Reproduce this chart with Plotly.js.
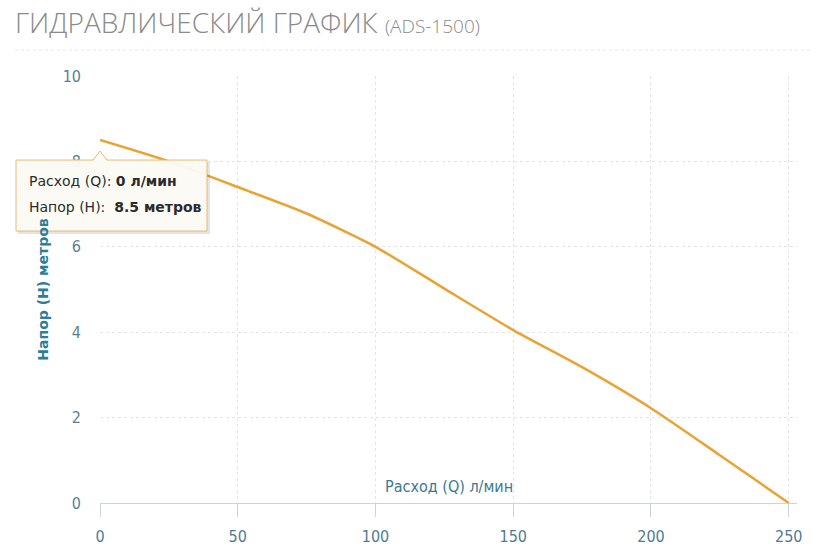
<!DOCTYPE html>
<html>
<head>
<meta charset="utf-8">
<script src="https://cdn.plot.ly/plotly-3.0.1.min.js"></script>
<style>html,body{margin:0;padding:0;background:#fff;}#chart{width:817px;height:553px;}</style>
</head>
<body>
<div id="chart"></div>
<script>
// Data
const flowQ = [0, 25, 50, 75, 100, 125, 150, 175, 200, 225, 250];          // л/мин
const headH = [8.5, 8.0, 7.4, 6.78, 6.0, 5.02, 4.05, 3.18, 2.22, 1.12, 0]; // метров
const xTicks = [0, 50, 100, 150, 200, 250];
const yTicks = [0, 2, 4, 6, 8, 10];
const titleMain = "ГИДРАВЛИЧЕСКИЙ ГРАФИК";
const titleModel = "(ADS-1500)";
const xTitle = "Расход (Q) л/мин";
const yTitle = "Напор (Н) метров";
const tipPointIndex = 0;

const condFont = "'DejaVu Sans Condensed', 'Roboto Condensed', 'Liberation Sans Narrow', Roboto, sans-serif";

const trace = {
  x: flowQ, y: headH, type: 'scatter', mode: 'lines',
  line: {color: '#eba232', width: 2.5, shape: 'spline', smoothing: 0.6},
  hoverinfo: 'skip', showlegend: false
};

const tipQ = flowQ[tipPointIndex], tipH = headH[tipPointIndex];

const layout = {
  width: 817, height: 553,
  paper_bgcolor: '#ffffff', plot_bgcolor: '#ffffff',
  margin: {l: 100, r: 20, t: 76, b: 50},
  title: {
    text: titleMain + ' <span style="font-size:19px">' + titleModel + '</span>',
    font: {family: 'Open Sans', size: 28, color: '#8a8a8a', weight: 300},
    x: 15/817, xref: 'container', xanchor: 'left',
    y: 1 - 13/553, yref: 'container', yanchor: 'top'
  },
  xaxis: {
    range: [0, 253], tickvals: xTicks, ticktext: xTicks.map(String),
    showgrid: true, gridcolor: '#e4e4e4', griddash: 'dot', gridwidth: 1,
    zeroline: false, showline: true, linecolor: '#c9d4e2', linewidth: 1,
    ticks: 'outside', ticklen: 13, tickcolor: '#c9d4e2', tickwidth: 1,
    ticklabelstandoff: 6,
    tickfont: {family: condFont, size: 16, color: '#4f7b94'},
    fixedrange: true
  },
  yaxis: {
    range: [0, 10], tickvals: yTicks, ticktext: yTicks.map(String),
    showgrid: true, gridcolor: '#e4e4e4', griddash: 'dot', gridwidth: 1,
    zeroline: false, showline: false, ticks: '',
    ticklabelstandoff: 18,
    tickfont: {family: condFont, size: 16, color: '#5b7f92'},
    title: {text: yTitle, font: {family: 'DejaVu Sans', size: 14, color: '#2a7d9b', weight: 'bold'}, standoff: 10},
    fixedrange: true
  },
  shapes: [
    {type: 'line', xref: 'paper', yref: 'paper', x0: -85/697, x1: 713/697, y0: 453/427, y1: 453/427,
     line: {color: '#e6e6e6', width: 1, dash: 'dot'}},
    {type: 'rect', xref: 'paper', yref: 'paper', xsizemode: 'pixel', ysizemode: 'pixel',
     xanchor: 0, yanchor: tipH/10, x0: -82, x1: 110, y0: -22, y1: -94,
     fillcolor: 'rgba(0,0,0,0.10)', line: {width: 0}},
    {type: 'rect', xref: 'paper', yref: 'paper', xsizemode: 'pixel', ysizemode: 'pixel',
     xanchor: 0, yanchor: tipH/10, x0: -84, x1: 107, y0: -20, y1: -91,
     fillcolor: 'rgba(253,251,246,0.95)', line: {color: '#ebb86e', width: 1}},
    {type: 'path', xref: 'paper', yref: 'paper', xsizemode: 'pixel', ysizemode: 'pixel',
     xanchor: 0, yanchor: tipH/10, path: 'M -7,-21 L 0,-11 L 7,-21 Z',
     fillcolor: 'rgb(253,251,246)', line: {width: 0}},
    {type: 'path', xref: 'paper', yref: 'paper', xsizemode: 'pixel', ysizemode: 'pixel',
     xanchor: 0, yanchor: tipH/10, path: 'M -7,-20 L 0,-11 L 7,-20',
     line: {color: '#ebb86e', width: 1}}
  ],
  annotations: [
    {xref: 'paper', yref: 'paper', x: 0.5, y: 0, xanchor: 'center', yanchor: 'bottom', yshift: 5,
     text: xTitle, showarrow: false,
     font: {family: condFont, size: 16, color: '#3a7896'}},
    {xref: 'x', yref: 'y', x: tipQ, y: tipH, xanchor: 'left', yanchor: 'middle',
     xshift: -73, yshift: -41, align: 'left', showarrow: false,
     text: 'Расход (Q): <b>' + tipQ + ' л/мин</b>', font: {family: 'DejaVu Sans', size: 14, color: '#2b2b2b'}},
    {xref: 'x', yref: 'y', x: tipQ, y: tipH, xanchor: 'left', yanchor: 'middle',
     xshift: -73, yshift: -67, align: 'left', showarrow: false,
     text: 'Напор (Н):  <b>' + tipH + ' метров</b>', font: {family: 'DejaVu Sans', size: 14, color: '#2b2b2b'}}
  ]
};

Plotly.newPlot('chart', [trace], layout, {staticPlot: true, displayModeBar: false});
</script>
</body>
</html>
